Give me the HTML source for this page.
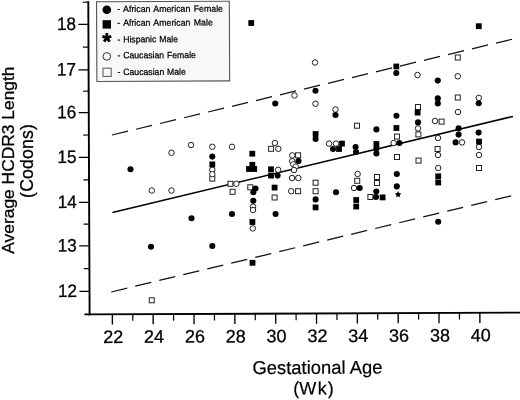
<!DOCTYPE html>
<html><head><meta charset="utf-8"><title>chart</title>
<style>html,body{margin:0;padding:0;background:#fff;}svg{display:block;}text{font-family:"Liberation Sans",sans-serif;fill:#000;}</style></head><body>
<svg width="520" height="400" viewBox="0 0 520 400" style="filter:blur(0.35px)">
<rect width="520" height="400" fill="#fff"/>
<g transform="rotate(-0.24 89.6 314.4)">
<line x1="89.6" y1="1.2" x2="89.6" y2="315.4" stroke="#000" stroke-width="1.9"/>
<line x1="84.4" y1="314.4" x2="522" y2="314.4" stroke="#000" stroke-width="1.9"/>
<line x1="79.5" y1="291.40" x2="89" y2="291.40" stroke="#000" stroke-width="1.35"/>
<line x1="79.5" y1="245.80" x2="89" y2="245.80" stroke="#000" stroke-width="1.35"/>
<line x1="79.5" y1="202.40" x2="89" y2="202.40" stroke="#000" stroke-width="1.35"/>
<line x1="79.5" y1="157.40" x2="89" y2="157.40" stroke="#000" stroke-width="1.35"/>
<line x1="79.5" y1="112.60" x2="89" y2="112.60" stroke="#000" stroke-width="1.35"/>
<line x1="79.5" y1="69.80" x2="89" y2="69.80" stroke="#000" stroke-width="1.35"/>
<line x1="79.5" y1="24.40" x2="89" y2="24.40" stroke="#000" stroke-width="1.35"/>
<line x1="84" y1="2.20" x2="89" y2="2.20" stroke="#000" stroke-width="1.2"/>
<line x1="84" y1="47.10" x2="89" y2="47.10" stroke="#000" stroke-width="1.2"/>
<line x1="84" y1="91.20" x2="89" y2="91.20" stroke="#000" stroke-width="1.2"/>
<line x1="84" y1="135.00" x2="89" y2="135.00" stroke="#000" stroke-width="1.2"/>
<line x1="84" y1="179.90" x2="89" y2="179.90" stroke="#000" stroke-width="1.2"/>
<line x1="84" y1="224.10" x2="89" y2="224.10" stroke="#000" stroke-width="1.2"/>
<line x1="84" y1="268.60" x2="89" y2="268.60" stroke="#000" stroke-width="1.2"/>
<line x1="112.35" y1="314.4" x2="112.35" y2="324.6" stroke="#000" stroke-width="1.35"/>
<line x1="132.77" y1="314.4" x2="132.77" y2="321" stroke="#000" stroke-width="1.2"/>
<line x1="153.18" y1="314.4" x2="153.18" y2="324.6" stroke="#000" stroke-width="1.35"/>
<line x1="173.60" y1="314.4" x2="173.60" y2="321" stroke="#000" stroke-width="1.2"/>
<line x1="194.02" y1="314.4" x2="194.02" y2="324.6" stroke="#000" stroke-width="1.35"/>
<line x1="214.44" y1="314.4" x2="214.44" y2="321" stroke="#000" stroke-width="1.2"/>
<line x1="234.85" y1="314.4" x2="234.85" y2="324.6" stroke="#000" stroke-width="1.35"/>
<line x1="255.27" y1="314.4" x2="255.27" y2="321" stroke="#000" stroke-width="1.2"/>
<line x1="275.69" y1="314.4" x2="275.69" y2="324.6" stroke="#000" stroke-width="1.35"/>
<line x1="296.10" y1="314.4" x2="296.10" y2="321" stroke="#000" stroke-width="1.2"/>
<line x1="316.52" y1="314.4" x2="316.52" y2="324.6" stroke="#000" stroke-width="1.35"/>
<line x1="336.94" y1="314.4" x2="336.94" y2="321" stroke="#000" stroke-width="1.2"/>
<line x1="357.35" y1="314.4" x2="357.35" y2="324.6" stroke="#000" stroke-width="1.35"/>
<line x1="377.77" y1="314.4" x2="377.77" y2="321" stroke="#000" stroke-width="1.2"/>
<line x1="398.19" y1="314.4" x2="398.19" y2="324.6" stroke="#000" stroke-width="1.35"/>
<line x1="418.61" y1="314.4" x2="418.61" y2="321" stroke="#000" stroke-width="1.2"/>
<line x1="439.02" y1="314.4" x2="439.02" y2="324.6" stroke="#000" stroke-width="1.35"/>
<line x1="459.44" y1="314.4" x2="459.44" y2="321" stroke="#000" stroke-width="1.2"/>
<line x1="479.86" y1="314.4" x2="479.86" y2="324.6" stroke="#000" stroke-width="1.35"/>
<text transform="translate(77.1,296.90) scale(0.95,1)" font-size="18" text-anchor="end" stroke="#000" stroke-width="0.3">12</text>
<text transform="translate(77.1,251.30) scale(0.95,1)" font-size="18" text-anchor="end" stroke="#000" stroke-width="0.3">13</text>
<text transform="translate(77.1,207.90) scale(0.95,1)" font-size="18" text-anchor="end" stroke="#000" stroke-width="0.3">14</text>
<text transform="translate(77.1,162.90) scale(0.95,1)" font-size="18" text-anchor="end" stroke="#000" stroke-width="0.3">15</text>
<text transform="translate(77.1,118.10) scale(0.95,1)" font-size="18" text-anchor="end" stroke="#000" stroke-width="0.3">16</text>
<text transform="translate(77.1,75.30) scale(0.95,1)" font-size="18" text-anchor="end" stroke="#000" stroke-width="0.3">17</text>
<text transform="translate(77.1,29.90) scale(0.95,1)" font-size="18" text-anchor="end" stroke="#000" stroke-width="0.3">18</text>
<text x="113.15" y="343" font-size="18" text-anchor="middle" stroke="#000" stroke-width="0.3">22</text>
<text x="153.98" y="343" font-size="18" text-anchor="middle" stroke="#000" stroke-width="0.3">24</text>
<text x="194.82" y="343" font-size="18" text-anchor="middle" stroke="#000" stroke-width="0.3">26</text>
<text x="235.65" y="343" font-size="18" text-anchor="middle" stroke="#000" stroke-width="0.3">28</text>
<text x="276.49" y="343" font-size="18" text-anchor="middle" stroke="#000" stroke-width="0.3">30</text>
<text x="317.32" y="343" font-size="18" text-anchor="middle" stroke="#000" stroke-width="0.3">32</text>
<text x="358.15" y="343" font-size="18" text-anchor="middle" stroke="#000" stroke-width="0.3">34</text>
<text x="398.99" y="343" font-size="18" text-anchor="middle" stroke="#000" stroke-width="0.3">36</text>
<text x="439.82" y="343" font-size="18" text-anchor="middle" stroke="#000" stroke-width="0.3">38</text>
<text x="480.66" y="343" font-size="18" text-anchor="middle" stroke="#000" stroke-width="0.3">40</text>
<text x="317.25" y="374.75" font-size="18.45" text-anchor="middle" stroke="#000" stroke-width="0.2">Gestational Age</text>
<text x="292.96" y="395.45" font-size="18.1" text-anchor="start" stroke="#000" stroke-width="0.2">(W<tspan dx="1.3">k</tspan><tspan dx="1.1">)</tspan></text>
</g>
<text transform="translate(14.0,160.1) rotate(-90)" font-size="17.4" text-anchor="middle" stroke="#000" stroke-width="0.3">Average HCDR3 Length</text>
<text transform="translate(33.2,160.9) rotate(-90)" font-size="17.6" letter-spacing="0.2" text-anchor="middle" stroke="#000" stroke-width="0.3">(Codons)</text>
<line x1="112.5" y1="212.5" x2="513" y2="116.4" stroke="#000" stroke-width="1.5"/>
<line x1="112" y1="135" x2="513" y2="39" stroke="#111" stroke-width="1.25" stroke-dasharray="16.45 8.23"/>
<line x1="111.25" y1="292" x2="512" y2="195.6" stroke="#111" stroke-width="1.25" stroke-dasharray="16.45 8.23"/>
<rect x="96.7" y="1.5" width="132.8" height="79.65" fill="#f8f8f8" stroke="#555" stroke-width="1.1" transform="rotate(-0.24 163 41)"/>
<circle cx="106.8" cy="9.7" r="4.3" fill="#000"/>
<rect x="102.6" y="20.2" width="8.4" height="8.4" fill="#000"/>
<line x1="106.85" y1="37.80" x2="106.85" y2="33.10" stroke="#000" stroke-width="2.8" stroke-linecap="butt"/><line x1="106.85" y1="37.80" x2="111.32" y2="36.35" stroke="#000" stroke-width="2.8" stroke-linecap="butt"/><line x1="106.85" y1="37.80" x2="109.61" y2="41.60" stroke="#000" stroke-width="2.8" stroke-linecap="butt"/><line x1="106.85" y1="37.80" x2="104.09" y2="41.60" stroke="#000" stroke-width="2.8" stroke-linecap="butt"/><line x1="106.85" y1="37.80" x2="102.38" y2="36.35" stroke="#000" stroke-width="2.8" stroke-linecap="butt"/>
<circle cx="106.8" cy="56.4" r="3.8" fill="none" stroke="#333" stroke-width="1"/>
<rect x="103" y="68.2" width="8.2" height="8.2" fill="none" stroke="#555" stroke-width="1"/>
<g transform="rotate(-0.2 160 40)">
<text transform="translate(117.4,11.9) scale(0.965,1)" font-size="9.1" word-spacing="0.95" stroke="#000" stroke-width="0.25">- African American Female</text>
<text transform="translate(117.4,25.7) scale(0.965,1)" font-size="9.1" word-spacing="0.95" stroke="#000" stroke-width="0.25">- African American Male</text>
<text transform="translate(117.4,42.3) scale(0.955,1)" font-size="9.1" word-spacing="0.45" stroke="#000" stroke-width="0.25">- Hispanic Male</text>
<text transform="translate(117.4,58.2) scale(0.955,1)" font-size="9.1" word-spacing="0.45" stroke="#000" stroke-width="0.25">- Caucasian Female</text>
<text transform="translate(117.4,74.9) scale(0.955,1)" font-size="9.1" word-spacing="0.45" stroke="#000" stroke-width="0.25">- Caucasian Male</text>
</g>
<rect x="209.80" y="176.10" width="5" height="5" fill="#fff" stroke="#222" stroke-width="1"/>
<rect x="149.25" y="297.80" width="5" height="5" fill="#fff" stroke="#222" stroke-width="1"/>
<rect x="227.90" y="181.30" width="5" height="5" fill="#fff" stroke="#222" stroke-width="1"/>
<rect x="230.10" y="189.30" width="5" height="5" fill="#fff" stroke="#222" stroke-width="1"/>
<rect x="247.80" y="184.80" width="5" height="5" fill="#fff" stroke="#222" stroke-width="1"/>
<rect x="268.60" y="146.30" width="5" height="5" fill="#fff" stroke="#222" stroke-width="1"/>
<rect x="272.10" y="195.00" width="5" height="5" fill="#fff" stroke="#222" stroke-width="1"/>
<rect x="295.60" y="152.80" width="5" height="5" fill="#fff" stroke="#222" stroke-width="1"/>
<rect x="295.60" y="188.70" width="5" height="5" fill="#fff" stroke="#222" stroke-width="1"/>
<rect x="313.10" y="180.20" width="5" height="5" fill="#fff" stroke="#222" stroke-width="1"/>
<rect x="313.10" y="188.70" width="5" height="5" fill="#fff" stroke="#222" stroke-width="1"/>
<rect x="354.50" y="123.20" width="5" height="5" fill="#fff" stroke="#222" stroke-width="1"/>
<rect x="354.70" y="178.30" width="5" height="5" fill="#fff" stroke="#222" stroke-width="1"/>
<rect x="374.50" y="174.50" width="5" height="5" fill="#fff" stroke="#222" stroke-width="1"/>
<rect x="374.50" y="180.50" width="5" height="5" fill="#fff" stroke="#222" stroke-width="1"/>
<rect x="367.90" y="194.50" width="5" height="5" fill="#fff" stroke="#222" stroke-width="1"/>
<rect x="394.50" y="134.10" width="5" height="5" fill="#fff" stroke="#222" stroke-width="1"/>
<rect x="394.50" y="154.50" width="5" height="5" fill="#fff" stroke="#222" stroke-width="1"/>
<rect x="415.50" y="104.50" width="5" height="5" fill="#fff" stroke="#222" stroke-width="1"/>
<rect x="415.90" y="131.90" width="5" height="5" fill="#fff" stroke="#222" stroke-width="1"/>
<rect x="416.00" y="158.10" width="5" height="5" fill="#fff" stroke="#222" stroke-width="1"/>
<rect x="439.10" y="119.10" width="5" height="5" fill="#fff" stroke="#222" stroke-width="1"/>
<rect x="435.10" y="146.50" width="5" height="5" fill="#fff" stroke="#222" stroke-width="1"/>
<rect x="455.30" y="55.00" width="5" height="5" fill="#fff" stroke="#222" stroke-width="1"/>
<rect x="455.30" y="95.00" width="5" height="5" fill="#fff" stroke="#222" stroke-width="1"/>
<rect x="476.50" y="165.50" width="5" height="5" fill="#fff" stroke="#222" stroke-width="1"/>
<circle cx="171.50" cy="152.75" r="2.75" fill="#fff" stroke="#222" stroke-width="1"/>
<circle cx="191.00" cy="145.00" r="2.75" fill="#fff" stroke="#222" stroke-width="1"/>
<circle cx="212.30" cy="146.80" r="2.75" fill="#fff" stroke="#222" stroke-width="1"/>
<circle cx="212.30" cy="169.80" r="2.75" fill="#fff" stroke="#222" stroke-width="1"/>
<circle cx="212.30" cy="174.20" r="2.75" fill="#fff" stroke="#222" stroke-width="1"/>
<circle cx="151.75" cy="190.50" r="2.75" fill="#fff" stroke="#222" stroke-width="1"/>
<circle cx="171.50" cy="190.50" r="2.75" fill="#fff" stroke="#222" stroke-width="1"/>
<circle cx="232.00" cy="146.80" r="2.75" fill="#fff" stroke="#222" stroke-width="1"/>
<circle cx="236.40" cy="183.80" r="2.75" fill="#fff" stroke="#222" stroke-width="1"/>
<circle cx="253.00" cy="206.60" r="2.75" fill="#fff" stroke="#222" stroke-width="1"/>
<circle cx="253.00" cy="210.00" r="2.75" fill="#fff" stroke="#222" stroke-width="1"/>
<circle cx="252.80" cy="228.40" r="2.75" fill="#fff" stroke="#222" stroke-width="1"/>
<circle cx="274.90" cy="143.00" r="2.75" fill="#fff" stroke="#222" stroke-width="1"/>
<circle cx="278.30" cy="148.80" r="2.75" fill="#fff" stroke="#222" stroke-width="1"/>
<circle cx="278.10" cy="169.80" r="2.75" fill="#fff" stroke="#222" stroke-width="1"/>
<circle cx="292.20" cy="155.40" r="2.75" fill="#fff" stroke="#222" stroke-width="1"/>
<circle cx="292.20" cy="161.20" r="2.75" fill="#fff" stroke="#222" stroke-width="1"/>
<circle cx="293.30" cy="164.30" r="2.75" fill="#fff" stroke="#222" stroke-width="1"/>
<circle cx="295.70" cy="166.60" r="2.75" fill="#fff" stroke="#222" stroke-width="1"/>
<circle cx="294.00" cy="170.00" r="2.75" fill="#fff" stroke="#222" stroke-width="1"/>
<circle cx="292.10" cy="178.00" r="2.75" fill="#fff" stroke="#222" stroke-width="1"/>
<circle cx="298.30" cy="178.00" r="2.75" fill="#fff" stroke="#222" stroke-width="1"/>
<circle cx="291.20" cy="191.20" r="2.75" fill="#fff" stroke="#222" stroke-width="1"/>
<circle cx="294.50" cy="95.50" r="2.75" fill="#fff" stroke="#222" stroke-width="1"/>
<circle cx="315.00" cy="62.50" r="2.75" fill="#fff" stroke="#222" stroke-width="1"/>
<circle cx="315.50" cy="103.75" r="2.75" fill="#fff" stroke="#222" stroke-width="1"/>
<circle cx="335.50" cy="109.50" r="2.75" fill="#fff" stroke="#222" stroke-width="1"/>
<circle cx="329.00" cy="143.60" r="2.75" fill="#fff" stroke="#222" stroke-width="1"/>
<circle cx="336.00" cy="143.60" r="2.75" fill="#fff" stroke="#222" stroke-width="1"/>
<circle cx="357.60" cy="174.00" r="2.75" fill="#fff" stroke="#222" stroke-width="1"/>
<circle cx="354.00" cy="188.00" r="2.75" fill="#fff" stroke="#222" stroke-width="1"/>
<circle cx="393.60" cy="143.00" r="2.75" fill="#fff" stroke="#222" stroke-width="1"/>
<circle cx="417.50" cy="75.00" r="2.75" fill="#fff" stroke="#222" stroke-width="1"/>
<circle cx="418.00" cy="128.40" r="2.75" fill="#fff" stroke="#222" stroke-width="1"/>
<circle cx="435.00" cy="121.00" r="2.75" fill="#fff" stroke="#222" stroke-width="1"/>
<circle cx="438.00" cy="138.00" r="2.75" fill="#fff" stroke="#222" stroke-width="1"/>
<circle cx="438.00" cy="155.00" r="2.75" fill="#fff" stroke="#222" stroke-width="1"/>
<circle cx="438.20" cy="168.00" r="2.75" fill="#fff" stroke="#222" stroke-width="1"/>
<circle cx="457.80" cy="76.30" r="2.75" fill="#fff" stroke="#222" stroke-width="1"/>
<circle cx="458.00" cy="112.00" r="2.75" fill="#fff" stroke="#222" stroke-width="1"/>
<circle cx="462.00" cy="142.40" r="2.75" fill="#fff" stroke="#222" stroke-width="1"/>
<circle cx="478.80" cy="97.90" r="2.75" fill="#fff" stroke="#222" stroke-width="1"/>
<circle cx="479.00" cy="147.00" r="2.75" fill="#fff" stroke="#222" stroke-width="1"/>
<circle cx="479.00" cy="155.00" r="2.75" fill="#fff" stroke="#222" stroke-width="1"/>
<rect x="248.35" y="20.10" width="5.8" height="5.8" fill="#000"/>
<rect x="475.90" y="23.30" width="5.8" height="5.8" fill="#000"/>
<rect x="209.40" y="161.50" width="5.8" height="5.8" fill="#000"/>
<rect x="249.40" y="150.80" width="5.8" height="5.8" fill="#000"/>
<rect x="249.40" y="161.90" width="5.8" height="5.8" fill="#000"/>
<rect x="246.10" y="166.10" width="5.8" height="5.8" fill="#000"/>
<rect x="251.30" y="166.10" width="5.8" height="5.8" fill="#000"/>
<rect x="249.50" y="219.10" width="5.8" height="5.8" fill="#000"/>
<rect x="249.60" y="259.90" width="5.8" height="5.8" fill="#000"/>
<rect x="268.10" y="166.40" width="5.8" height="5.8" fill="#000"/>
<rect x="268.10" y="172.70" width="5.8" height="5.8" fill="#000"/>
<rect x="271.70" y="184.70" width="5.8" height="5.8" fill="#000"/>
<rect x="312.70" y="131.10" width="5.8" height="5.8" fill="#000"/>
<rect x="312.70" y="204.50" width="5.8" height="5.8" fill="#000"/>
<rect x="339.10" y="140.70" width="5.8" height="5.8" fill="#000"/>
<rect x="336.10" y="146.10" width="5.8" height="5.8" fill="#000"/>
<rect x="353.30" y="197.10" width="5.8" height="5.8" fill="#000"/>
<rect x="353.30" y="203.60" width="5.8" height="5.8" fill="#000"/>
<rect x="373.50" y="141.10" width="5.8" height="5.8" fill="#000"/>
<rect x="379.70" y="194.50" width="5.8" height="5.8" fill="#000"/>
<rect x="393.40" y="63.60" width="5.8" height="5.8" fill="#000"/>
<rect x="393.50" y="125.10" width="5.8" height="5.8" fill="#000"/>
<rect x="414.70" y="109.70" width="5.8" height="5.8" fill="#000"/>
<rect x="435.30" y="173.40" width="5.8" height="5.8" fill="#000"/>
<rect x="435.30" y="179.60" width="5.8" height="5.8" fill="#000"/>
<rect x="476.10" y="138.70" width="5.8" height="5.8" fill="#000"/>
<circle cx="130.50" cy="169.25" r="3.05" fill="#000"/>
<circle cx="191.50" cy="218.25" r="3.05" fill="#000"/>
<circle cx="151.00" cy="246.75" r="3.05" fill="#000"/>
<circle cx="212.30" cy="246.00" r="3.05" fill="#000"/>
<circle cx="212.30" cy="156.60" r="3.05" fill="#000"/>
<circle cx="255.50" cy="188.50" r="3.05" fill="#000"/>
<circle cx="253.30" cy="192.20" r="3.05" fill="#000"/>
<circle cx="253.30" cy="200.80" r="3.05" fill="#000"/>
<circle cx="232.00" cy="214.00" r="3.05" fill="#000"/>
<circle cx="275.60" cy="214.00" r="3.05" fill="#000"/>
<circle cx="277.60" cy="175.60" r="3.05" fill="#000"/>
<circle cx="275.25" cy="103.50" r="3.05" fill="#000"/>
<circle cx="298.50" cy="161.00" r="3.05" fill="#000"/>
<circle cx="315.50" cy="90.75" r="3.05" fill="#000"/>
<circle cx="315.60" cy="139.00" r="3.05" fill="#000"/>
<circle cx="315.60" cy="199.40" r="3.05" fill="#000"/>
<circle cx="333.00" cy="149.00" r="3.05" fill="#000"/>
<circle cx="336.00" cy="192.20" r="3.05" fill="#000"/>
<circle cx="335.50" cy="115.00" r="3.05" fill="#000"/>
<circle cx="355.60" cy="147.00" r="3.05" fill="#000"/>
<circle cx="356.00" cy="152.00" r="3.05" fill="#000"/>
<circle cx="359.70" cy="188.00" r="3.05" fill="#000"/>
<circle cx="376.40" cy="129.40" r="3.05" fill="#000"/>
<circle cx="376.40" cy="148.40" r="3.05" fill="#000"/>
<circle cx="376.40" cy="153.40" r="3.05" fill="#000"/>
<circle cx="376.30" cy="191.60" r="3.05" fill="#000"/>
<circle cx="376.00" cy="197.00" r="3.05" fill="#000"/>
<circle cx="396.30" cy="73.00" r="3.05" fill="#000"/>
<circle cx="396.40" cy="115.80" r="3.05" fill="#000"/>
<circle cx="399.40" cy="143.00" r="3.05" fill="#000"/>
<circle cx="396.80" cy="174.00" r="3.05" fill="#000"/>
<circle cx="396.80" cy="186.40" r="3.05" fill="#000"/>
<circle cx="418.00" cy="122.40" r="3.05" fill="#000"/>
<circle cx="437.80" cy="80.60" r="3.05" fill="#000"/>
<circle cx="437.80" cy="98.40" r="3.05" fill="#000"/>
<circle cx="437.80" cy="103.40" r="3.05" fill="#000"/>
<circle cx="438.20" cy="221.80" r="3.05" fill="#000"/>
<circle cx="458.60" cy="128.40" r="3.05" fill="#000"/>
<circle cx="458.60" cy="134.60" r="3.05" fill="#000"/>
<circle cx="455.60" cy="142.40" r="3.05" fill="#000"/>
<circle cx="478.70" cy="103.20" r="3.05" fill="#000"/>
<circle cx="478.60" cy="132.60" r="3.05" fill="#000"/>
<path d="M398.10 191.00 L399.10 193.12 L401.43 193.42 L399.72 195.03 L400.16 197.33 L398.10 196.20 L396.04 197.33 L396.48 195.03 L394.77 193.42 L397.10 193.12Z" fill="#000"/>
</svg></body></html>
